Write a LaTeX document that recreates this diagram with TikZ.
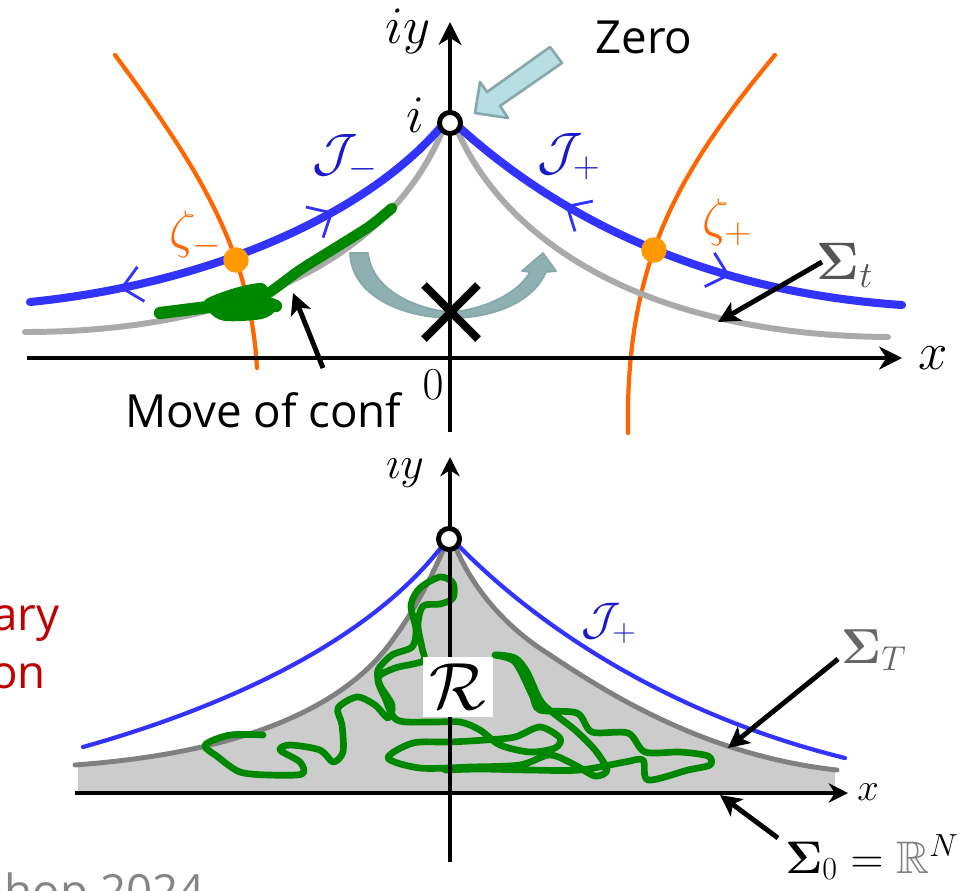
\RequirePackage{fix-cm}
\documentclass[tikz,border=0pt]{standalone}
\usepackage{amsmath,amssymb}
\usepackage{fontspec}
\newfontfamily\slidefont{Open Sans}
\usetikzlibrary{arrows.meta,decorations.markings}

\definecolor{jblue}{RGB}{51,51,255}
\definecolor{jtext}{RGB}{25,25,205}
\definecolor{dualorange}{RGB}{255,102,0}
\definecolor{saddleorange}{RGB}{255,153,0}
\definecolor{thimgray}{RGB}{170,170,170}
\definecolor{darkthim}{RGB}{128,128,128}
\definecolor{regfill}{RGB}{204,204,204}
\definecolor{confgreen}{RGB}{0,135,0}
\definecolor{slidered}{RGB}{192,0,0}
\definecolor{flowfill}{RGB}{183,222,226}
\definecolor{flowedge}{RGB}{135,168,170}

\tikzset{
  axis/.style={line width=2.7pt,line cap=butt,-{Stealth[length=13pt,width=13pt,inset=4pt]}},
  axisthin/.style={line width=2.3pt,line cap=butt,-{Stealth[length=11pt,width=11pt,inset=3.5pt]}},
  pointer/.style={line width=2.8pt,line cap=butt,-{Stealth[length=12pt,width=12pt,inset=3pt]}},
  barb/.tip={Straight Barb[length=11pt,width=20pt,line width=1.6pt]},
  jcurve/.style={jblue,line width=4.6pt},
  jthin/.style={jblue,line width=2.4pt},
  sigcurve/.style={thimgray,line width=3.4pt},
  sigdark/.style={darkthim,line width=2.8pt},
  dualcurve/.style={dualorange,line width=2.4pt},
  scribble/.style={confgreen,line width=3.8pt},
  zpt/.style={circle,draw=black,fill=white,line width=2.8pt,minimum size=12pt,inner sep=0pt},
  saddlept/.style={circle,fill=saddleorange,minimum size=14.5pt,inner sep=0pt},
  txt/.style={font=\slidefont\fontsize{26}{31}\selectfont,inner sep=0pt},
  mlab/.style={font=\fontsize{30}{34}\selectfont,inner sep=1pt},
  slab/.style={font=\fontsize{26}{30}\selectfont,inner sep=1pt}
}

\begin{document}
\begin{tikzpicture}[line cap=round,line join=round,x=0.02cm,y=-0.02cm]
\useasboundingbox (0,0) rectangle (969,890);
\clip (0,0) rectangle (969,890);
% ---- upper plane
\draw[dualcurve] (115,55) .. controls (200,170) and (250,250) .. (257,368);
\draw[dualcurve] (775,55) .. controls (680,170) and (625,260) .. (628,433);
\draw[sigcurve] (25,332) .. controls (230,332) and (385,265) .. (442,132);
\draw[sigcurve] (458,132) .. controls (505,238) and (640,335) .. (888,337);
\draw[jcurve,postaction={decorate,decoration={markings,
    mark=at position 0.2 with {\arrowreversed{barb}},
    mark=at position 0.7 with {\arrow{barb}}}}]
  (30,302) .. controls (200,285) and (360,220) .. (440,128);
\draw[jcurve,postaction={decorate,decoration={markings,
    mark=at position 0.27 with {\arrowreversed{barb}},
    mark=at position 0.64 with {\arrow{barb}}}}]
  (460,128) .. controls (540,200) and (680,290) .. (902,305);
% move of the configuration
\draw[scribble,line width=7pt] plot[smooth] coordinates {(160,313) (200,308) (232,304) (262,302) (276,306)};
\fill[confgreen] plot[smooth cycle] coordinates {(205,300) (235,288) (262,283) (268,292) (258,303) (275,310) (262,319) (225,321) (210,313)};
\draw[scribble,line width=6pt] plot[smooth] coordinates {(240,309) (270,292) (300,270) (340,245) (370,226) (392,208)};
% flow around the zero
\filldraw[fill=flowedge!85!flowfill,draw=flowedge,line width=1pt]
  (350,253) -- (368,253) .. controls (372,292) and (420,310) .. (451,312)
  .. controls (482,310) and (518,294) .. (530,272) -- (522,271) -- (543,253) -- (556,271) -- (546,272)
  .. controls (532,304) and (490,318) .. (451,318) .. controls (410,318) and (352,300) .. (350,253) -- cycle;
\filldraw[fill=flowfill,draw=flowedge,line width=1.5pt]
  (550,47) -- (487,92) -- (480,82) -- (475,113) -- (508,118) -- (500,106) -- (562,63) -- cycle;
% axes
\draw[axis] (27,358) -- (902,358);
\draw[axis] (450,432) -- (450,22);
\draw[line width=4.5pt,line cap=butt] (424,285) -- (478,339);
\draw[line width=4.5pt,line cap=butt] (424,339) -- (478,285);
\node[zpt] (itop) at (450,123) {};
\node[saddlept] (zm) at (236,260) {};
\node[saddlept] (zp) at (654,250) {};
% labels
\node[mlab] (iy1) at (408,31) {$iy$};
\node[mlab] (xlab1) at (933,358) {$x$};
\node[slab] (orig) at (433,385) {$0$};
\node[mlab] (ilab) at (415,115) {$i$};
\node[mlab,text=dualorange] (zml) at (196,235) {$\zeta_-$};
\node[mlab,text=dualorange] (zpl) at (727,222) {$\zeta_+$};
\node[mlab,text=jtext] (jml) at (345,158) {$\mathcal{J}_-$};
\node[mlab,text=jtext] (jpl) at (569,157) {$\mathcal{J}_+$};
\node[mlab,text=black!67] (sigt) at (845,265) {$\boldsymbol{\Sigma}_t$};
\node[txt,anchor=base west] (zero) at (595,53) {Zero};
\node[txt,anchor=base west] (move) at (125,427) {Move of conf};
\coordinate (sigtA) at (822,262);
\coordinate (sigtB) at (718,322);
\coordinate (moveA) at (323,368);
\coordinate (moveB) at (293,293);
\draw[pointer] (sigtA) -- (sigtB);
\draw[pointer] (moveA) -- (moveB);
% ---- lower plane
\fill[regfill] (78,791) -- (78,764) .. controls (250,752) and (340,705) .. (385,650) .. controls (415,612) and (435,570) .. (446,543)
  -- (454,543) .. controls (466,575) and (495,620) .. (547,653) .. controls (600,688) and (700,755) .. (835,770) -- (835,791) -- cycle;
\draw[sigdark] (75,765) .. controls (250,752) and (340,705) .. (385,650) .. controls (415,612) and (435,570) .. (446,543);
\draw[sigdark] (454,543) .. controls (466,575) and (495,620) .. (547,653) .. controls (600,688) and (700,755) .. (837,770);
\draw[jthin] (83,747) .. controls (250,700) and (380,630) .. (446,541);
\draw[jthin] (454,541) .. controls (520,610) and (650,710) .. (845,758);
\draw[scribble] plot[smooth,tension=0.5] coordinates {(263,735) (230,735) (205,745) (218,757) (240,772) (270,775)
  (302,774) (300,762) (280,750) (290,745) (320,750) (333,762) (343,752) (342,725) (338,708) (357,697) (375,705)
  (388,718) (392,705) (380,685) (378,670) (392,655) (412,647) (416,630) (411,605) (420,588) (440,577) (453,583)
  (453,598) (440,604) (423,606) (418,625) (422,648) (423,661) (395,668) (378,678) (385,698) (397,720) (430,722)
  (460,722) (480,730) (500,745) (530,752) (555,748) (560,738) (540,727) (515,737) (485,740) (450,742) (413,743)
  (388,758) (420,768) (470,767) (520,765) (550,755) (575,765) (595,776) (607,770) (595,750) (575,730) (552,712)
  (540,700) (527,672) (515,658) (495,655) (515,662) (532,695) (540,710) (577,713) (592,732) (628,733) (645,752)
  (680,752) (708,756) (710,765) (688,770) (648,780) (643,760) (625,762) (580,770) (530,770) (480,769) (445,770)};
\draw[axisthin] (75,793) -- (848,793);
\draw[axisthin] (450,862) -- (450,457);
\node[zpt] (ibot) at (449,539) {};
\node[fill=white,minimum width=40pt,minimum height=34pt,inner sep=0pt,font=\fontsize{38}{40}\selectfont] (reg) at (458,687) {$\mathcal{R}$};
\node[slab] (iy2) at (405,473) {$\imath y$};
\node[font=\fontsize{22}{26}\selectfont,inner sep=1pt] (xlab2) at (868,792) {$x$};
\node[slab,text=jtext] (jpl2) at (609,623) {$\mathcal{J}_+$};
\node[mlab,font=\fontsize{28}{32}\selectfont,text=black!60] (sigT) at (874,650) {$\boldsymbol{\Sigma}_T$};
\node[slab,anchor=base west,inner sep=0pt] (sig0) at (785,873) {$\boldsymbol{\Sigma}_0={\color{black!50}\mathbb{R}}^N$};
\coordinate (sigTA) at (838,659);
\coordinate (sigTB) at (728,748);
\coordinate (sig0A) at (778,838);
\coordinate (sig0B) at (720,795);
\draw[pointer] (sigTA) -- (sigTB);
\draw[pointer] (sig0A) -- (sig0B);
% cut slide text
\node[txt,anchor=base east,text=slidered] (ary) at (60,630) {ary};
\node[txt,anchor=base east,text=slidered] (on) at (46,688) {on};
\node[txt,anchor=base east,text=black!48] (year) at (205,907) {hop 2024};
\end{tikzpicture}
\end{document}
